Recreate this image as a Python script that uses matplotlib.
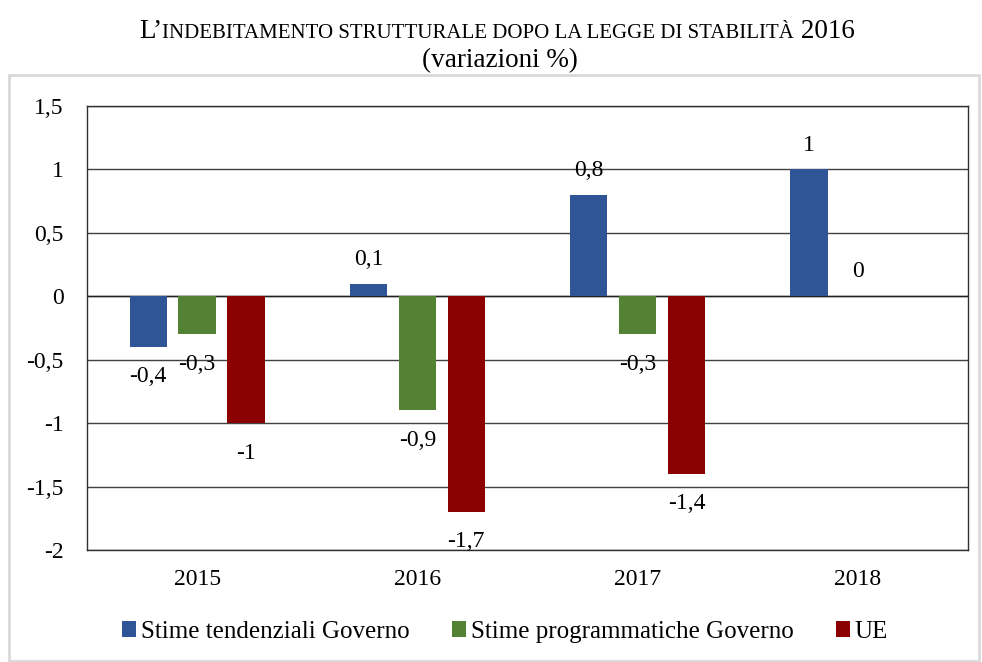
import numpy as np
import matplotlib.pyplot as plt
from matplotlib.patches import Rectangle
from matplotlib.offsetbox import TextArea, HPacker, AnchoredOffsetbox

plt.rcParams["font.family"] = ["Liberation Serif", "DejaVu Serif"]

years = ["2015", "2016", "2017", "2018"]
series_names = ["Stime tendenziali Governo", "Stime programmatiche Governo", "UE"]
tendenziali = [-0.4, 0.1, 0.8, 1.0]
programmatiche = [-0.3, -0.9, -0.3, 0.0]
ue = [-1.0, -1.7, -1.4, np.nan]
colors = ["#2F5597", "#548235", "#8B0000"]

fs = 17

fig = plt.figure(figsize=(9.82, 6.62), dpi=100)
ax = fig.add_axes([87 / 982, 1 - 550 / 662, 881 / 982, 444 / 662])

x = np.arange(len(years))
width = 0.17
offsets = [-0.222, 0.0, 0.222]

handles = []
for vals, off, col, name in zip([tendenziali, programmatiche, ue], offsets, colors, series_names):
    vals = np.array(vals, dtype=float)
    bars = ax.bar(x + off, vals, width, color=col, label=name, zorder=3)
    handles.append(bars)
    for xi, v in zip(x + off, vals):
        if np.isnan(v):
            continue
        txt = ("%g" % v).replace(".", ",")
        dy = -21.5 if v < 0 else 17.5
        ax.annotate(txt, (xi, v), xytext=(0, dy), textcoords="offset points",
                    ha="center", va="center", fontsize=fs, zorder=4)

ax.set_xlim(-0.5, 3.5)
ax.set_ylim(-2, 1.5)
yt = np.arange(-2, 1.51, 0.5)
ax.set_yticks(yt)
ax.set_yticklabels([("%g" % t).replace(".", ",") for t in yt])
ax.set_xticks(x)
ax.set_xticklabels(years)
ax.tick_params(axis="both", length=0, labelsize=fs)
ax.tick_params(axis="y", pad=17)
ax.tick_params(axis="x", pad=14)
ax.grid(axis="y", color="#404040", linewidth=1, zorder=1)
ax.axhline(0, color="#202020", linewidth=1, zorder=2)
for sp in ax.spines.values():
    sp.set_color("#303030")
    sp.set_linewidth(1)

ax.legend(handles, series_names, loc="center", bbox_to_anchor=(0.5 + 14 / 982, (662 - 632) / 662),
          bbox_transform=fig.transFigure, ncol=3, frameon=False, fontsize=18,
          handlelength=0.55, handleheight=0.6, handletextpad=0.2, columnspacing=1.7)

# titolo in maiuscoletto
big, small = 19.5, 15
parts = [TextArea("L’", textprops=dict(fontsize=big)),
         TextArea("INDEBITAMENTO STRUTTURALE DOPO LA LEGGE DI STABILITÀ", textprops=dict(fontsize=small)),
         TextArea(" 2016", textprops=dict(fontsize=big))]
title_box = HPacker(children=parts, align="baseline", pad=0, sep=0)
anch = AnchoredOffsetbox(loc="center", child=title_box, frameon=False,
                         bbox_to_anchor=(0.5 + 6 / 982, 1 - 31 / 662), bbox_transform=fig.transFigure,
                         borderpad=0, pad=0)
fig.add_artist(anch)
fig.text(0.5 + 9 / 982, 1 - 61 / 662, "(variazioni %)", ha="center", va="center", fontsize=19.5)

fig.patches.append(Rectangle((9 / 982, 1 / 662), 970 / 982, (662 - 76) / 662,
                             transform=fig.transFigure, fill=False,
                             edgecolor="#D9D9D9", linewidth=2))

fig.savefig("out.png", dpi=100)
